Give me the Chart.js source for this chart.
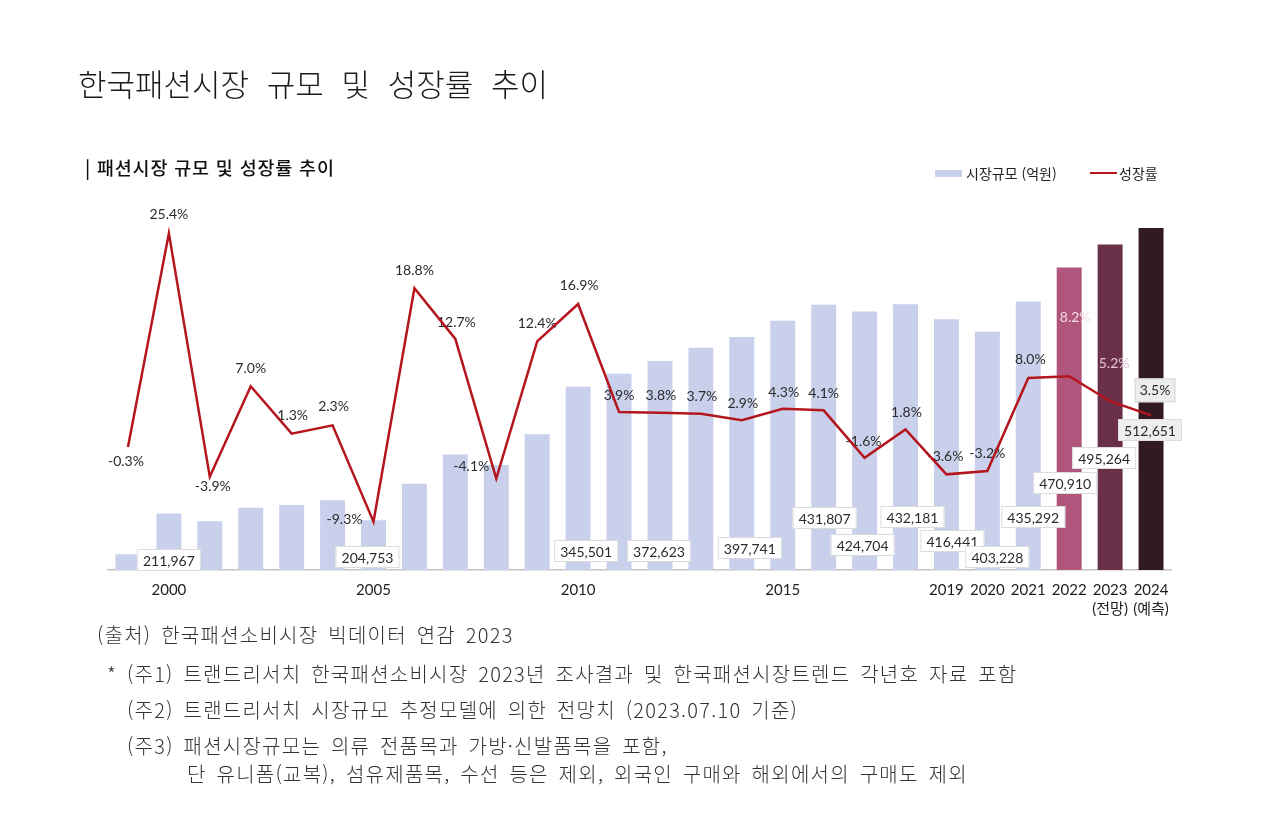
<!DOCTYPE html>
<html lang="ko">
<head>
<meta charset="utf-8">
<title>한국패션시장 규모 및 성장률 추이</title>
<script src="https://cdn.jsdelivr.net/npm/chart.js@4.4.1/dist/chart.umd.min.js"></script>
<style>
  html, body { margin: 0; padding: 0; background: #fff; }
  #wrap { position: relative; width: 1271px; height: 823px; overflow: hidden; font-family: "Noto Sans CJK KR", "Noto Sans", sans-serif; color: #222; }
  #myChart { position: absolute; left: 0; top: 0; }
  .txt { position: absolute; white-space: nowrap; line-height: 1; }
  #title { left: 78px; top: 67px; font-size: 31px; font-weight: 300; word-spacing: 9px; color: #1a1a1a; }
  #subtitle { left: 85px; top: 158px; font-size: 18.5px; font-weight: 500; letter-spacing: 0.8px; color: #111; }
  .legend-item { position: absolute; top: 163px; font-size: 14px; color: #222; display: flex; align-items: center; }
  .legend-box { display: inline-block; width: 27px; height: 7px; background: #c9d0eb; margin-right: 4px; }
  .legend-line { display: inline-block; width: 27px; height: 2px; background: #b5161e; margin-right: 2px; }
  .note { position: absolute; white-space: nowrap; font-size: 20px; color: #333; line-height: 1; font-weight: 300; word-spacing: 3px; letter-spacing: 1.25px; }
</style>
</head>
<body>
<div id="wrap">
  <canvas id="myChart" width="1271" height="823"></canvas>
  <div class="txt" id="title">한국패션시장 규모 및 성장률 추이</div>
  <div class="txt" id="subtitle">| 패션시장 규모 및 성장률 추이</div>
  <div class="legend-item" style="left:935px;"><span class="legend-box"></span>시장규모 (억원)</div>
  <div class="legend-item" style="left:1090px;"><span class="legend-line"></span>성장률</div>
  <div class="note" style="left:97px; top:625px;">(출처) 한국패션소비시장 빅데이터 연감 2023</div>
  <div class="note" style="left:107px; top:664px;">* (주1) 트랜드리서치 한국패션소비시장 2023년 조사결과 및 한국패션시장트렌드 각년호 자료 포함</div>
  <div class="note" style="left:127px; top:700px;">(주2) 트랜드리서치 시장규모 추정모델에 의한 전망치 (2023.07.10 기준)</div>
  <div class="note" style="left:127px; top:736px;">(주3) 패션시장규모는 의류 전품목과 가방·신발품목을 포함,</div>
  <div class="note" style="left:187px; top:764px;">단 유니폼(교복), 섬유제품목, 수선 등은 제외, 외국인 구매와 해외에서의 구매도 제외</div>
</div>

<script>
// years on the category axis
const years = [
  "1999", "2000", "2001", "2002", "2003", "2004", "2005", "2006", "2007",
  "2008", "2009", "2010", "2011", "2012", "2013", "2014", "2015", "2016",
  "2017", "2018", "2019", "2020", "2021", "2022", "2023", "2024",
];

// tick labels actually shown under the axis
const tickLabels = [
  "", "2000", "", "", "", "", "2005", "", "", "", "", "2010", "", "", "", "",
  "2015", "", "", "", "2019", "2020", "2021", "2022",
  ["2023", "(전망)"], ["2024", "(예측)"],
];

// 시장규모 (억원) - unlabeled years
const marketSize = [
  169000, 211967, 203700, 218000, 220800, 225900, 204753, 243300, 274100,
  262900, 295500, 345501, 359000, 372623, 386400, 397741, 414800, 431807,
  424704, 432181, 416441, 403228, 435292, 470910, 495264, 512651,
];

// 성장률 (%)
const growthRate = [
  -0.3, 25.4, -3.9, 7.0, 1.3, 2.3, -9.3, 18.8, 12.7, -4.1, 12.4, 16.9, 3.9,
  3.8, 3.7, 2.9, 4.3, 4.1, -1.6, 1.8, -3.6, -3.2, 8.0, 8.2, 5.2, 3.5,
];

// which bars get a value box
const showValue = [
  false, true, false, false, false, false, true, false, false, false, false,
  true, false, true, false, true, false, true, true, true, true, true, true,
  true, true, true,
];

// label placement (pixel offsets) - styling only
const pctOffsets = [
  [-2, 15], [0, -19], [3, 10], [0, -18], [1, -18], [1, -19], [-29, -2],
  [0, -18], [1, -16], [-25, -12], [0, -18], [1, -18], [0, -17], [1, -17],
  [1, -17], [1, -17], [1, -16], [0, -17], [-1, -16], [1, -17], [-1, -18],
  [0, -18], [2, -18], [6, -59], [4, -38], [4, -25],
];
// value boxes: dx from bar centre, dy from baseline
const valueOffsets = [
  null, [0, -10], null, null, null, null, [-6, -13], null, null, null, null,
  [8, -19], null, [-1, -19], null, [8, -22], null, [1, -52], [-2, -25],
  [7, -53], [6, -29], [10, -13], [5, -53], [-4, -87], [-6, -112], [-1, -140],
];

const barColors = years.map((y) => {
  if (y === "2022") return "#b0567d";
  if (y === "2023") return "#6b3049";
  if (y === "2024") return "#321a22";
  return "#c9d0eb";
});
const pctColors = years.map((y) => {
  if (y === "2022") return "#f3dce6";
  if (y === "2023") return "#e6c3d3";
  return "#2b2b2b";
});

const labelFont = "Lato, 'Noto Sans', sans-serif";

const labelPlugin = {
  id: "labelPlugin",
  // percent labels go under the line but over the bars
  beforeDatasetDraw(chart, args) {
    if (args.index !== 1) return;
    const ctx = chart.ctx;
    const pts = chart.getDatasetMeta(1).data;
    ctx.save();
    ctx.font = "14px " + labelFont;
    ctx.textAlign = "center";
    ctx.textBaseline = "middle";
    pts.forEach((pt, i) => {
      const txt = growthRate[i].toFixed(1) + "%";
      const x = pt.x + pctOffsets[i][0];
      const y = pt.y + pctOffsets[i][1];
      if (i === pts.length - 1) {
        const w = ctx.measureText(txt).width + 10;
        ctx.fillStyle = "#ededed";
        ctx.fillRect(x - w / 2, y - 12, w, 24);
        ctx.strokeStyle = "#d6d6d6";
        ctx.lineWidth = 1;
        ctx.strokeRect(x - w / 2 + 0.5, y - 11.5, w - 1, 23);
      }
      ctx.fillStyle = pctColors[i];
      ctx.fillText(txt, x, y);
    });
    ctx.restore();
  },
  afterDatasetsDraw(chart) {
    const ctx = chart.ctx;
    const bars = chart.getDatasetMeta(0).data;
    const bottom = chart.chartArea.bottom;
    ctx.save();
    ctx.font = "14px " + labelFont;
    ctx.textAlign = "center";
    ctx.textBaseline = "middle";
    bars.forEach((bar, i) => {
      if (!showValue[i]) return;
      const txt = marketSize[i].toLocaleString("en-US");
      const x = bar.x + valueOffsets[i][0];
      const y = bottom + valueOffsets[i][1];
      const w = 64;
      const h = 22;
      ctx.fillStyle = i === bars.length - 1 ? "#eeeeee" : "#ffffff";
      ctx.fillRect(x - w / 2, y - h / 2, w, h);
      ctx.strokeStyle = "#dcdcdc";
      ctx.lineWidth = 1;
      ctx.strokeRect(x - w / 2 + 0.5, y - h / 2 + 0.5, w - 1, h - 1);
      ctx.fillStyle = "#2b2b2b";
      ctx.fillText(txt, x, y + 1);
    });
    ctx.restore();
  },
};

const ctx = document.getElementById("myChart").getContext("2d");

const chart = new Chart(ctx, {
  type: "bar",
  data: {
    labels: years,
    datasets: [
      {
        type: "bar",
        label: "시장규모 (억원)",
        data: marketSize,
        backgroundColor: barColors,
        yAxisID: "y",
        barPercentage: 0.61,
        categoryPercentage: 1.0,
        order: 2,
      },
      {
        type: "line",
        label: "성장률",
        data: growthRate,
        borderColor: "#b5161e",
        borderWidth: 2.5,
        pointRadius: 0,
        tension: 0,
        yAxisID: "y1",
        order: 1,
      },
    ],
  },
  options: {
    responsive: false,
    animation: false,
    layout: {
      padding: { left: 107.5, right: 99.5, top: 200, bottom: 193 },
    },
    plugins: {
      legend: { display: false },
      tooltip: { enabled: false },
    },
    scales: {
      x: {
        grid: { display: false, drawTicks: false },
        border: { display: true, color: "#c4c4c4", width: 1.5 },
        ticks: {
          autoSkip: false,
          maxRotation: 0,
          padding: 11,
          color: "#1e1e1e",
          font: { family: "Lato, 'Noto Sans CJK KR', sans-serif", size: 15, lineHeight: 1.25 },
          callback: (value, index) => tickLabels[index],
        },
        afterFit: (axis) => {
          axis.height = 60;
        },
      },
      y: {
        display: false,
        min: 152400,
        max: 542100,
      },
      y1: {
        display: false,
        min: -15.11,
        max: 29.41,
      },
    },
  },
  plugins: [labelPlugin],
});
</script>
</body>
</html>
